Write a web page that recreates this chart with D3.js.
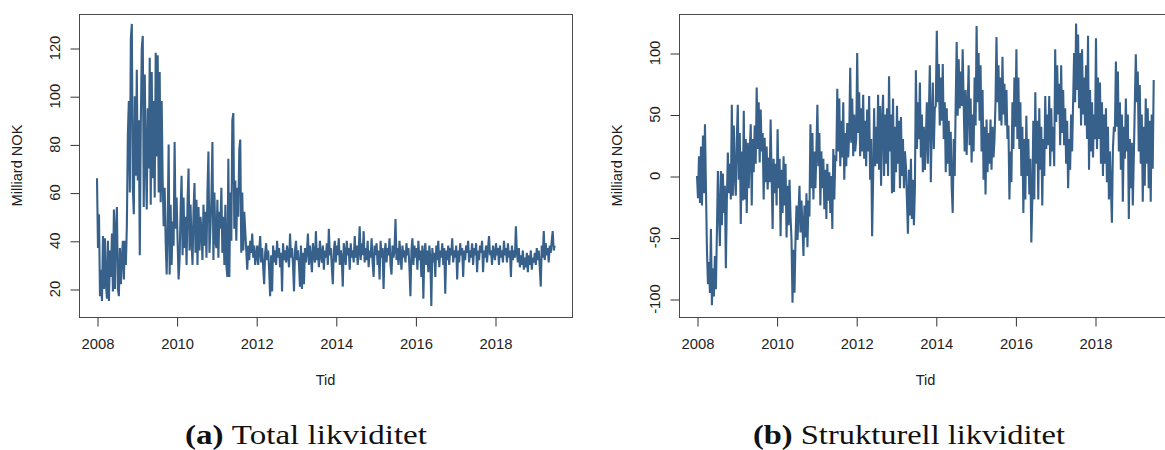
<!DOCTYPE html>
<html>
<head>
<meta charset="utf-8">
<script src="https://cdn.jsdelivr.net/npm/d3@7"></script>
<style>
  body { margin: 0; background: #fff; }
  .plot-text { font-family: "Liberation Sans", Arial, sans-serif; fill: #1e1e1e; }
  .caption, .caption tspan { font-family: "Liberation Serif", "Times New Roman", serif; fill: #111; }
</style>
</head>
<body>
<svg id="chart" width="1165" height="450"></svg>
<script>
// Axis ticks
const yearTicks = [2008, 2010, 2012, 2014, 2016, 2018];
const totalTicks = [20, 40, 60, 80, 100, 120];
const structuralTicks = [-100, -50, 0, 50, 100];

// Observations start in 2008, 40 observations per year
const startYear = 2008;
const stepsPerYear = 40;

// Total likviditet, milliard NOK
const totalLiquidity = [
  66, 37, 51, 17, 28, 15, 42, 20, 41, 22,
  16, 40, 15, 36, 25, 43, 19, 53, 20, 45,
  54, 20, 17, 37, 22, 33, 40, 24, 40, 30,
  46, 84, 98, 60, 124, 130, 62, 51, 100, 67,
  111, 65, 90, 34, 88, 120, 125, 54, 109, 75,
  53, 95, 70, 116, 55, 110, 66, 98, 58, 118,
  75, 117, 60, 110, 56, 98, 65, 46, 62, 40,
  26, 46, 80, 26, 55, 30, 48, 38, 81, 45,
  58, 40, 24, 32, 52, 67, 34, 58, 37, 50,
  30, 56, 70, 36, 55, 40, 30, 52, 64, 35,
  57, 30, 54, 36, 50, 44, 32, 55, 38, 52,
  33, 60, 77, 35, 45, 58, 81, 32, 60, 40,
  37, 57, 33, 52, 45, 62, 35, 50, 30, 55,
  30, 25, 74, 25, 60, 40, 90, 93, 45, 65,
  40, 62, 50, 78, 82, 35, 60, 36, 52, 44,
  36, 28, 38, 32, 40, 35, 43, 33, 38, 30,
  34, 38, 30, 36, 42, 31, 37, 29, 22, 35,
  39, 32, 36, 28, 17, 34, 19, 38, 31, 36,
  30, 40, 33, 37, 29, 35, 19, 39, 32, 36,
  31, 38, 34, 29, 43, 33, 37, 30, 19, 36,
  40, 32, 36, 30, 21, 38, 20, 35, 22, 37,
  31, 36, 43, 30, 38, 33, 27, 39, 34, 31,
  44, 32, 37, 29, 40, 34, 31, 38, 28, 36,
  33, 39, 30, 45, 34, 37, 29, 22, 36, 40,
  31, 38, 34, 41, 30, 36, 33, 21, 39, 35,
  30, 40, 34, 37, 28, 39, 33, 36, 31, 42,
  33, 38, 30, 36, 46, 32, 39, 34, 44, 31,
  37, 32, 40, 29, 36, 33, 41, 31, 25, 38,
  34, 39, 30, 36, 24, 40, 33, 37, 20, 35,
  39, 31, 37, 34, 41, 30, 26, 38, 33, 36,
  49, 32, 37, 30, 40, 34, 28, 38, 33, 36,
  31, 39, 34, 37, 29, 17, 36, 41, 30, 38,
  33, 37, 28, 40, 32, 36, 25, 38, 16, 35,
  39, 30, 36, 27, 38, 33, 13, 37, 31, 35,
  25, 38, 32, 40, 29, 36, 33, 39, 30, 37,
  18, 36, 32, 38, 30, 37, 34, 41, 31, 36,
  33, 38, 24, 36, 31, 39, 34, 37, 25, 36,
  32, 38, 35, 40, 31, 36, 33, 39, 30, 37,
  34, 39, 27, 36, 32, 38, 35, 40, 27, 36,
  33, 38, 31, 37, 42, 34, 36, 30, 38, 35,
  32, 39, 34, 37, 30, 38, 33, 36, 31, 40,
  34, 37, 31, 39, 33, 36, 25, 38, 32, 36,
  33, 46, 35, 31, 37, 29, 34, 30, 36, 28,
  33, 29, 35, 27, 34, 30, 36, 28, 33, 31,
  35, 30, 37, 32, 36, 29, 21, 38, 33, 44,
  32, 39, 34, 37, 31, 38, 35, 40, 44, 36,
  38
];

// Strukturell likviditet, milliard NOK
const structuralLiquidity = [
  0, -18, 16, -22, 24, -24, 33, -14, 42, -10,
  -60, -88, -70, -95, -43, -105, -75, -98, -65, -92,
  -46, 4, -30, -57, 4, -40, 2, -30, -8, -75,
  -20, 19, -14, 10, -19, 58, -16, 41, 0, -16,
  30, 58, -3, 35, -39, 20, -20, 53, -19, 30,
  -30, 27, -10, 20, 42, -24, 30, 3, 41, 10,
  72, 22, 60, 11, 54, 20, 35, -19, 31, -5,
  24, -11, 15, -5, 46, 0, -43, 14, -14, 10,
  -24, 38, -10, 14, -49, 5, -30, 16, -24, 10,
  -50, -8, -40, -3, -33, -52, -103, -60, -95, -52,
  -24, -52, -30, -8, -46, -20, -40, -65, -24, -50,
  -14, -58, -20, -33, 42, -10, 35, -19, 20, -10,
  20, 58, 8, 35, -24, 20, -10, 14, -27, 5,
  -35, 10, -20, 3, -30, 0, -43, 22, -19, 15,
  14, 71, 20, 63, 8, 45, 15, 60, -3, 35,
  8, 43, 15, 35, 88, 27, 63, 16, 50, 20,
  30, 100, 35, 68, 16, 55, 20, 66, 14, 45,
  8, 54, 20, 65, -3, 30, -49, -3, 55, 8,
  40, 10, 66, 5, 57, -8, 45, 66, 0, 50,
  10, 55, 0, 81, 20, 50, -14, 63, -13, 40,
  3, 57, 10, 45, -10, 48, 0, 30, -10, 20,
  8, -20, -47, 5, -32, 14, -35, -3, -40, -10,
  86, 22, 60, 30, 76, 15, 50, 3, 40, 5,
  30, 60, 10, 50, 90, -5, 45, 76, 22, 55,
  57, 118, 60, 91, 41, 80, 45, 91, 30, 60,
  3, 55, 10, 45, 0, 36, -10, -30, 30, 0,
  60, 109, 49, 95, 55, 85, 57, 103, 60, 20,
  70, 17, 55, 90, 25, 63, 11, 50, 20, 80,
  41, 122, 60, 100, 45, 90, 20, 70, -3, 40,
  -15, 46, 3, 35, 10, 46, 5, 40, 15, 30,
  60, 113, 60, 90, 45, 80, 41, 97, 50, 75,
  41, 70, 30, 41, -19, 20, -5, 60, 22, 80,
  40, 103, 30, 80, 22, 60, 0, 40, -30, 30,
  -19, 49, 0, 30, -15, 14, -54, -20, 45, -19,
  68, 10, 45, -19, 55, 5, 40, -24, 30, 0,
  65, 22, 50, 25, 65, 8, 55, 20, 40, 8,
  103, 44, 90, 50, 75, 25, 90, 35, 70, 25,
  55, 10, 45, -10, 30, 5, 50, 20, 60, 100,
  60, 124, 70, 115, 55, 100, 41, 103, 50, 80,
  41, 90, 30, 114, 5, 70, 20, 60, 15, 50,
  30, 112, 22, 80, 30, 76, 10, 60, 0, 50,
  10, 55, -5, 40, -19, 20, -10, -38, 22, 40,
  36, 93, 40, 85, 20, 60, 5, 50, -21, 40,
  14, 63, 20, 50, -35, 30, -10, 27, -24, 15,
  57, 99, 60, 85, 20, 74, 10, 50, -21, 40,
  -8, 63, 10, 55, -10, 45, -21, 50, 6, 78
];

const yAxisTitle = "Milliard NOK";
const xAxisTitle = "Tid";

const panels = [
  { values: totalLiquidity, ticks: totalTicks, left: 79, yDomain: [20, 120], yRange: [289, 48],
    tag: "(a)", caption: "Total likviditet", capX: 306, capW: 242 },
  { values: structuralLiquidity, ticks: structuralTicks, left: 679, yDomain: [-100, 100], yRange: [299, 53],
    tag: "(b)", caption: "Strukturell likviditet", capX: 909, capW: 312 }
];

const boxTop = 14, boxBottom = 317, boxWidth = 493;
const lineColor = "#37618a";
const svg = d3.select("#chart");

panels.forEach(p => {
  const g = svg.append("g");
  const x = d3.scaleLinear().domain([2008, 2018]).range([p.left + 18, p.left + 416]);
  const y = d3.scaleLinear().domain(p.yDomain).range(p.yRange);

  // series line
  const line = d3.line()
    .x((d, i) => x(startYear + i / stepsPerYear))
    .y(d => y(d));
  g.append("path")
    .datum(p.values)
    .attr("d", line)
    .attr("fill", "none")
    .attr("stroke", lineColor)
    .attr("stroke-width", 2.1)
    .attr("stroke-linejoin", "miter")
    .attr("stroke-miterlimit", 3);

  // plot frame
  g.append("rect")
    .attr("x", p.left + 0.5).attr("y", boxTop + 0.5)
    .attr("width", boxWidth).attr("height", boxBottom - boxTop)
    .attr("fill", "none").attr("stroke", "#4a4a4a").attr("stroke-width", 1);

  // x axis
  const xa = g.append("g")
    .attr("transform", `translate(0.5,${boxBottom + 0.5})`)
    .call(d3.axisBottom(x).tickValues(yearTicks).tickSize(9).tickPadding(12).tickFormat(d3.format("d")));
  xa.select(".domain").remove();
  xa.selectAll(".tick line").attr("stroke", "#333");
  xa.selectAll(".tick text").attr("class", "plot-text").attr("font-size", "14.8px").attr("fill", null)
    .attr("font-family", null);

  // y axis
  const ya = g.append("g")
    .attr("transform", `translate(${p.left + 0.5},0.5)`)
    .call(d3.axisLeft(y).tickValues(p.ticks).tickSize(9).tickFormat(""));
  ya.select(".domain").remove();
  ya.selectAll(".tick line").attr("stroke", "#333");
  g.selectAll(".ylab").data(p.ticks).enter().append("text")
    .attr("class", "plot-text")
    .attr("transform", d => `translate(${p.left - 19},${y(d)}) rotate(-90)`)
    .attr("text-anchor", "middle")
    .attr("font-size", "14.8px")
    .text(d => d);

  // axis titles
  g.append("text")
    .attr("class", "plot-text")
    .attr("transform", `translate(${p.left - 57},${(boxTop + boxBottom) / 2}) rotate(-90)`)
    .attr("text-anchor", "middle")
    .attr("font-size", "14.6px")
    .text(yAxisTitle);
  g.append("text")
    .attr("class", "plot-text")
    .attr("x", p.left + boxWidth / 2).attr("y", 385)
    .attr("text-anchor", "middle")
    .attr("font-size", "14.6px")
    .text(xAxisTitle);

  // sub-figure caption
  const cap = svg.append("text")
    .attr("class", "caption")
    .attr("x", p.capX).attr("y", 444)
    .attr("text-anchor", "middle")
    .attr("font-size", "28px")
    .attr("textLength", p.capW)
    .attr("lengthAdjust", "spacingAndGlyphs");
  cap.append("tspan").attr("font-weight", "bold").text(p.tag);
  cap.append("tspan").text("\u00a0" + p.caption);
});
</script>
</body>
</html>
